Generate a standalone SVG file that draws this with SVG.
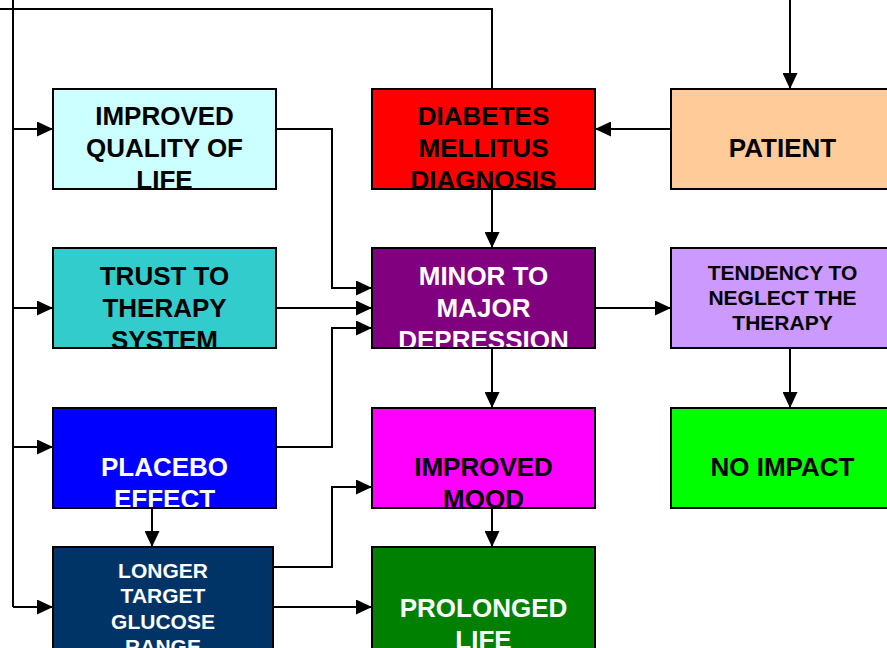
<svg xmlns="http://www.w3.org/2000/svg" width="887" height="648" viewBox="0 0 887 648">
<style>
.box{stroke:#000;stroke-width:2}
.t{font-family:"Liberation Sans",Arial,sans-serif;font-weight:bold;font-size:26px;text-anchor:middle}
.s{font-size:21px}
.w{fill:#fff}
.k{fill:#000}
.c path{fill:none;stroke:#000;stroke-width:2}
</style>
<defs>
<marker id="ah" markerUnits="userSpaceOnUse" markerWidth="16" markerHeight="15" refX="16" refY="7.5" orient="auto">
<path d="M0,0 L16,7.5 L0,15 z" fill="#000"/>
</marker>
<clipPath id="cq"><rect x="53" y="89" width="223" height="100"/></clipPath>
<clipPath id="cd"><rect x="372" y="89" width="223" height="100"/></clipPath>
<clipPath id="cp"><rect x="671" y="89" width="223" height="100"/></clipPath>
<clipPath id="ct"><rect x="53" y="248" width="223" height="100"/></clipPath>
<clipPath id="cm"><rect x="372" y="248" width="223" height="100"/></clipPath>
<clipPath id="cn"><rect x="671" y="248" width="223" height="100"/></clipPath>
<clipPath id="cpl"><rect x="53" y="408" width="223" height="100"/></clipPath>
<clipPath id="cmo"><rect x="372" y="408" width="223" height="100"/></clipPath>
<clipPath id="cni"><rect x="671" y="408" width="223" height="100"/></clipPath>
<clipPath id="cl"><rect x="53" y="547" width="220" height="110"/></clipPath>
<clipPath id="cpr"><rect x="372" y="547" width="223" height="110"/></clipPath>
</defs>
<rect width="887" height="648" fill="#fff"/>
<g id="connectors" class="c">
<path d="M0,9 H492 V89"/>
<path d="M13,0 V607"/>
<path d="M13,129 H53" marker-end="url(#ah)"/>
<path d="M13,308 H53" marker-end="url(#ah)"/>
<path d="M13,447 H53" marker-end="url(#ah)"/>
<path d="M13,607 H53" marker-end="url(#ah)"/>
<path d="M790,0 V89" marker-end="url(#ah)"/>
<path d="M671,129 H595" marker-end="url(#ah)"/>
<path d="M492,189 V248" marker-end="url(#ah)"/>
<path d="M276,129 H332 V288 H372" marker-end="url(#ah)"/>
<path d="M276,308 H372" marker-end="url(#ah)"/>
<path d="M276,447 H332 V328 H372" marker-end="url(#ah)"/>
<path d="M595,308 H671" marker-end="url(#ah)"/>
<path d="M492,348 V408" marker-end="url(#ah)"/>
<path d="M790,348 V408" marker-end="url(#ah)"/>
<path d="M152,508 V547" marker-end="url(#ah)"/>
<path d="M273,567 H332 V487 H372" marker-end="url(#ah)"/>
<path d="M273,607 H372" marker-end="url(#ah)"/>
<path d="M492,508 V547" marker-end="url(#ah)"/>
</g>
<g id="quality">
<rect x="53" y="89" width="223" height="100" fill="#CCFFFF"/>
<text class="t k" clip-path="url(#cq)"><tspan x="164.5" y="125">IMPROVED</tspan><tspan x="164.5" y="157">QUALITY OF</tspan><tspan x="164.5" y="189">LIFE</tspan></text>
<rect class="box" x="53" y="89" width="223" height="100" fill="none"/>
</g>
<g id="diabetes">
<rect x="372" y="89" width="223" height="100" fill="#FF0000"/>
<text class="t k" clip-path="url(#cd)"><tspan x="483.5" y="125">DIABETES</tspan><tspan x="483.5" y="157">MELLITUS</tspan><tspan x="483.5" y="189">DIAGNOSIS</tspan></text>
<rect class="box" x="372" y="89" width="223" height="100" fill="none"/>
</g>
<g id="patient">
<rect x="671" y="89" width="223" height="100" fill="#FFCC99"/>
<text class="t k" clip-path="url(#cp)"><tspan x="782.5" y="157">PATIENT</tspan></text>
<rect class="box" x="671" y="89" width="223" height="100" fill="none"/>
</g>
<g id="trust">
<rect x="53" y="248" width="223" height="100" fill="#33CCCC"/>
<text class="t k" clip-path="url(#ct)"><tspan x="164.5" y="285">TRUST TO</tspan><tspan x="164.5" y="317">THERAPY</tspan><tspan x="164.5" y="349">SYSTEM</tspan></text>
<rect class="box" x="53" y="248" width="223" height="100" fill="none"/>
</g>
<g id="minor">
<rect x="372" y="248" width="223" height="100" fill="#800080"/>
<text class="t w" clip-path="url(#cm)"><tspan x="483.5" y="285">MINOR TO</tspan><tspan x="483.5" y="317">MAJOR</tspan><tspan x="483.5" y="349">DEPRESSION</tspan></text>
<rect class="box" x="372" y="248" width="223" height="100" fill="none"/>
</g>
<g id="tendency">
<rect x="671" y="248" width="223" height="100" fill="#CC99FF"/>
<text class="t s k" clip-path="url(#cn)"><tspan x="782.5" y="280">TENDENCY TO</tspan><tspan x="782.5" y="305">NEGLECT THE</tspan><tspan x="782.5" y="330">THERAPY</tspan></text>
<rect class="box" x="671" y="248" width="223" height="100" fill="none"/>
</g>
<g id="placebo">
<rect x="53" y="408" width="223" height="100" fill="#0000FF"/>
<text class="t w" clip-path="url(#cpl)"><tspan x="164.5" y="476">PLACEBO</tspan><tspan x="164.5" y="508">EFFECT</tspan></text>
<rect class="box" x="53" y="408" width="223" height="100" fill="none"/>
</g>
<g id="mood">
<rect x="372" y="408" width="223" height="100" fill="#FF00FF"/>
<text class="t k" clip-path="url(#cmo)"><tspan x="483.5" y="476">IMPROVED</tspan><tspan x="483.5" y="508">MOOD</tspan></text>
<rect class="box" x="372" y="408" width="223" height="100" fill="none"/>
</g>
<g id="noimpact">
<rect x="671" y="408" width="223" height="100" fill="#00FF00"/>
<text class="t k" clip-path="url(#cni)"><tspan x="782.5" y="476">NO IMPACT</tspan></text>
<rect class="box" x="671" y="408" width="223" height="100" fill="none"/>
</g>
<g id="longer">
<rect x="53" y="547" width="220" height="110" fill="#003366"/>
<text class="t s w" clip-path="url(#cl)"><tspan x="163" y="578">LONGER</tspan><tspan x="163" y="603">TARGET</tspan><tspan x="163" y="629">GLUCOSE</tspan><tspan x="163" y="654">RANGE</tspan></text>
<rect class="box" x="53" y="547" width="220" height="110" fill="none"/>
</g>
<g id="prolonged">
<rect x="372" y="547" width="223" height="110" fill="#008000"/>
<text class="t w" clip-path="url(#cpr)"><tspan x="483.5" y="617">PROLONGED</tspan><tspan x="483.5" y="649">LIFE</tspan></text>
<rect class="box" x="372" y="547" width="223" height="110" fill="none"/>
</g>
</svg>
